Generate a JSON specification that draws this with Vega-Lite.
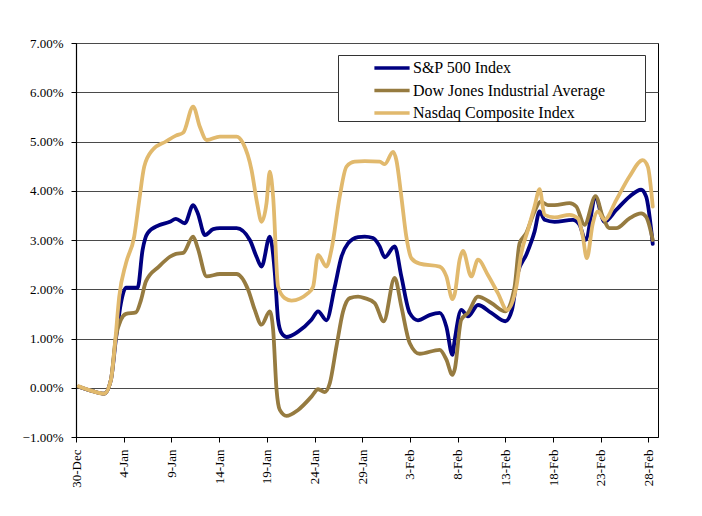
{
  "$schema": "https://vega.github.io/schema/vega-lite/v6.json",
  "autosize": {"type": "none"},
  "padding": {"left": 76, "top": 43, "right": 44, "bottom": 79},
  "width": 582,
  "height": 394,
  "background": "white",
  "data": {"values": [
    {"series": "S&P 500 Index", "day": 0.3, "ret": 0.02},
    {"series": "S&P 500 Index", "day": 1.75, "ret": -0.07},
    {"series": "S&P 500 Index", "day": 2.96, "ret": -0.12},
    {"series": "S&P 500 Index", "day": 3.66, "ret": 0.16},
    {"series": "S&P 500 Index", "day": 4.19, "ret": 1.0},
    {"series": "S&P 500 Index", "day": 4.71, "ret": 1.72},
    {"series": "S&P 500 Index", "day": 5.24, "ret": 2.03},
    {"series": "S&P 500 Index", "day": 6.46, "ret": 2.03},
    {"series": "S&P 500 Index", "day": 6.98, "ret": 2.8},
    {"series": "S&P 500 Index", "day": 7.51, "ret": 3.14},
    {"series": "S&P 500 Index", "day": 8.69, "ret": 3.3},
    {"series": "S&P 500 Index", "day": 9.84, "ret": 3.37},
    {"series": "S&P 500 Index", "day": 10.47, "ret": 3.43},
    {"series": "S&P 500 Index", "day": 11.41, "ret": 3.34},
    {"series": "S&P 500 Index", "day": 12.28, "ret": 3.71},
    {"series": "S&P 500 Index", "day": 12.77, "ret": 3.54},
    {"series": "S&P 500 Index", "day": 13.51, "ret": 3.1},
    {"series": "S&P 500 Index", "day": 14.38, "ret": 3.22},
    {"series": "S&P 500 Index", "day": 15.08, "ret": 3.24},
    {"series": "S&P 500 Index", "day": 16.83, "ret": 3.24},
    {"series": "S&P 500 Index", "day": 18.22, "ret": 3.0},
    {"series": "S&P 500 Index", "day": 18.92, "ret": 2.66},
    {"series": "S&P 500 Index", "day": 19.45, "ret": 2.46},
    {"series": "S&P 500 Index", "day": 20.31, "ret": 3.07},
    {"series": "S&P 500 Index", "day": 20.84, "ret": 2.33},
    {"series": "S&P 500 Index", "day": 21.18, "ret": 1.38},
    {"series": "S&P 500 Index", "day": 21.54, "ret": 1.11},
    {"series": "S&P 500 Index", "day": 22.06, "ret": 1.03},
    {"series": "S&P 500 Index", "day": 23.28, "ret": 1.14},
    {"series": "S&P 500 Index", "day": 24.68, "ret": 1.38},
    {"series": "S&P 500 Index", "day": 25.37, "ret": 1.55},
    {"series": "S&P 500 Index", "day": 26.25, "ret": 1.37},
    {"series": "S&P 500 Index", "day": 27.12, "ret": 2.05},
    {"series": "S&P 500 Index", "day": 27.82, "ret": 2.66},
    {"series": "S&P 500 Index", "day": 28.51, "ret": 2.93},
    {"series": "S&P 500 Index", "day": 29.56, "ret": 3.06},
    {"series": "S&P 500 Index", "day": 30.26, "ret": 3.07},
    {"series": "S&P 500 Index", "day": 31.13, "ret": 3.04},
    {"series": "S&P 500 Index", "day": 31.83, "ret": 2.87},
    {"series": "S&P 500 Index", "day": 32.36, "ret": 2.65},
    {"series": "S&P 500 Index", "day": 33.4, "ret": 2.87},
    {"series": "S&P 500 Index", "day": 34.1, "ret": 2.26},
    {"series": "S&P 500 Index", "day": 34.97, "ret": 1.52},
    {"series": "S&P 500 Index", "day": 35.84, "ret": 1.37},
    {"series": "S&P 500 Index", "day": 37.0, "ret": 1.47},
    {"series": "S&P 500 Index", "day": 38.12, "ret": 1.52},
    {"series": "S&P 500 Index", "day": 38.82, "ret": 1.24},
    {"series": "S&P 500 Index", "day": 39.45, "ret": 0.67},
    {"series": "S&P 500 Index", "day": 39.69, "ret": 0.97},
    {"series": "S&P 500 Index", "day": 40.38, "ret": 1.58},
    {"series": "S&P 500 Index", "day": 41.08, "ret": 1.45},
    {"series": "S&P 500 Index", "day": 42.13, "ret": 1.68},
    {"series": "S&P 500 Index", "day": 43.53, "ret": 1.52},
    {"series": "S&P 500 Index", "day": 45.0, "ret": 1.35},
    {"series": "S&P 500 Index", "day": 45.69, "ret": 1.58},
    {"series": "S&P 500 Index", "day": 46.31, "ret": 2.33},
    {"series": "S&P 500 Index", "day": 47.19, "ret": 2.7},
    {"series": "S&P 500 Index", "day": 48.06, "ret": 3.17},
    {"series": "S&P 500 Index", "day": 48.59, "ret": 3.58},
    {"series": "S&P 500 Index", "day": 49.11, "ret": 3.41},
    {"series": "S&P 500 Index", "day": 50.16, "ret": 3.37},
    {"series": "S&P 500 Index", "day": 52.07, "ret": 3.41},
    {"series": "S&P 500 Index", "day": 52.77, "ret": 3.31},
    {"series": "S&P 500 Index", "day": 53.4, "ret": 3.0},
    {"series": "S&P 500 Index", "day": 54.45, "ret": 3.85},
    {"series": "S&P 500 Index", "day": 55.39, "ret": 3.37},
    {"series": "S&P 500 Index", "day": 56.62, "ret": 3.61},
    {"series": "S&P 500 Index", "day": 58.01, "ret": 3.88},
    {"series": "S&P 500 Index", "day": 59.23, "ret": 4.02},
    {"series": "S&P 500 Index", "day": 59.76, "ret": 3.88},
    {"series": "S&P 500 Index", "day": 60.45, "ret": 2.92},

    {"series": "Dow Jones Industrial Average", "day": 0.3, "ret": 0.02},
    {"series": "Dow Jones Industrial Average", "day": 1.75, "ret": -0.07},
    {"series": "Dow Jones Industrial Average", "day": 2.96, "ret": -0.12},
    {"series": "Dow Jones Industrial Average", "day": 3.66, "ret": 0.16},
    {"series": "Dow Jones Industrial Average", "day": 4.19, "ret": 1.04},
    {"series": "Dow Jones Industrial Average", "day": 4.71, "ret": 1.38},
    {"series": "Dow Jones Industrial Average", "day": 5.24, "ret": 1.5},
    {"series": "Dow Jones Industrial Average", "day": 6.28, "ret": 1.53},
    {"series": "Dow Jones Industrial Average", "day": 6.81, "ret": 1.78},
    {"series": "Dow Jones Industrial Average", "day": 7.33, "ret": 2.16},
    {"series": "Dow Jones Industrial Average", "day": 8.69, "ret": 2.46},
    {"series": "Dow Jones Industrial Average", "day": 9.84, "ret": 2.66},
    {"series": "Dow Jones Industrial Average", "day": 10.47, "ret": 2.72},
    {"series": "Dow Jones Industrial Average", "day": 11.24, "ret": 2.74},
    {"series": "Dow Jones Industrial Average", "day": 12.28, "ret": 3.07},
    {"series": "Dow Jones Industrial Average", "day": 12.77, "ret": 2.83},
    {"series": "Dow Jones Industrial Average", "day": 13.69, "ret": 2.26},
    {"series": "Dow Jones Industrial Average", "day": 15.08, "ret": 2.31},
    {"series": "Dow Jones Industrial Average", "day": 16.83, "ret": 2.31},
    {"series": "Dow Jones Industrial Average", "day": 18.04, "ret": 1.99},
    {"series": "Dow Jones Industrial Average", "day": 18.74, "ret": 1.58},
    {"series": "Dow Jones Industrial Average", "day": 19.45, "ret": 1.28},
    {"series": "Dow Jones Industrial Average", "day": 20.31, "ret": 1.55},
    {"series": "Dow Jones Industrial Average", "day": 20.66, "ret": 1.18},
    {"series": "Dow Jones Industrial Average", "day": 21.02, "ret": -0.04},
    {"series": "Dow Jones Industrial Average", "day": 21.36, "ret": -0.45},
    {"series": "Dow Jones Industrial Average", "day": 22.06, "ret": -0.57},
    {"series": "Dow Jones Industrial Average", "day": 23.28, "ret": -0.45},
    {"series": "Dow Jones Industrial Average", "day": 24.68, "ret": -0.18},
    {"series": "Dow Jones Industrial Average", "day": 25.37, "ret": -0.03},
    {"series": "Dow Jones Industrial Average", "day": 26.07, "ret": -0.09},
    {"series": "Dow Jones Industrial Average", "day": 26.6, "ret": 0.09},
    {"series": "Dow Jones Industrial Average", "day": 27.3, "ret": 0.84},
    {"series": "Dow Jones Industrial Average", "day": 27.99, "ret": 1.55},
    {"series": "Dow Jones Industrial Average", "day": 28.69, "ret": 1.82},
    {"series": "Dow Jones Industrial Average", "day": 29.56, "ret": 1.85},
    {"series": "Dow Jones Industrial Average", "day": 30.26, "ret": 1.82},
    {"series": "Dow Jones Industrial Average", "day": 31.31, "ret": 1.72},
    {"series": "Dow Jones Industrial Average", "day": 32.25, "ret": 1.35},
    {"series": "Dow Jones Industrial Average", "day": 33.4, "ret": 2.23},
    {"series": "Dow Jones Industrial Average", "day": 34.1, "ret": 1.65},
    {"series": "Dow Jones Industrial Average", "day": 34.97, "ret": 0.91},
    {"series": "Dow Jones Industrial Average", "day": 36.02, "ret": 0.69},
    {"series": "Dow Jones Industrial Average", "day": 38.12, "ret": 0.77},
    {"series": "Dow Jones Industrial Average", "day": 38.82, "ret": 0.57},
    {"series": "Dow Jones Industrial Average", "day": 39.45, "ret": 0.26},
    {"series": "Dow Jones Industrial Average", "day": 39.69, "ret": 0.37},
    {"series": "Dow Jones Industrial Average", "day": 40.38, "ret": 1.38},
    {"series": "Dow Jones Industrial Average", "day": 41.08, "ret": 1.52},
    {"series": "Dow Jones Industrial Average", "day": 42.13, "ret": 1.85},
    {"series": "Dow Jones Industrial Average", "day": 43.53, "ret": 1.72},
    {"series": "Dow Jones Industrial Average", "day": 45.0, "ret": 1.55},
    {"series": "Dow Jones Industrial Average", "day": 45.97, "ret": 2.05},
    {"series": "Dow Jones Industrial Average", "day": 46.49, "ret": 2.93},
    {"series": "Dow Jones Industrial Average", "day": 47.19, "ret": 3.14},
    {"series": "Dow Jones Industrial Average", "day": 48.06, "ret": 3.58},
    {"series": "Dow Jones Industrial Average", "day": 48.69, "ret": 3.78},
    {"series": "Dow Jones Industrial Average", "day": 49.46, "ret": 3.71},
    {"series": "Dow Jones Industrial Average", "day": 50.16, "ret": 3.71},
    {"series": "Dow Jones Industrial Average", "day": 51.73, "ret": 3.75},
    {"series": "Dow Jones Industrial Average", "day": 52.43, "ret": 3.68},
    {"series": "Dow Jones Industrial Average", "day": 53.3, "ret": 3.31},
    {"series": "Dow Jones Industrial Average", "day": 54.45, "ret": 3.89},
    {"series": "Dow Jones Industrial Average", "day": 55.21, "ret": 3.47},
    {"series": "Dow Jones Industrial Average", "day": 55.92, "ret": 3.24},
    {"series": "Dow Jones Industrial Average", "day": 56.62, "ret": 3.24},
    {"series": "Dow Jones Industrial Average", "day": 58.01, "ret": 3.44},
    {"series": "Dow Jones Industrial Average", "day": 59.23, "ret": 3.54},
    {"series": "Dow Jones Industrial Average", "day": 59.76, "ret": 3.47},
    {"series": "Dow Jones Industrial Average", "day": 60.45, "ret": 3.0},

    {"series": "Nasdaq Composite Index", "day": 0.3, "ret": 0.03},
    {"series": "Nasdaq Composite Index", "day": 1.75, "ret": -0.07},
    {"series": "Nasdaq Composite Index", "day": 2.96, "ret": -0.12},
    {"series": "Nasdaq Composite Index", "day": 3.66, "ret": 0.16},
    {"series": "Nasdaq Composite Index", "day": 4.12, "ret": 0.97},
    {"series": "Nasdaq Composite Index", "day": 4.53, "ret": 1.85},
    {"series": "Nasdaq Composite Index", "day": 5.24, "ret": 2.53},
    {"series": "Nasdaq Composite Index", "day": 6.1, "ret": 3.07},
    {"series": "Nasdaq Composite Index", "day": 6.63, "ret": 3.81},
    {"series": "Nasdaq Composite Index", "day": 7.15, "ret": 4.49},
    {"series": "Nasdaq Composite Index", "day": 8.03, "ret": 4.83},
    {"series": "Nasdaq Composite Index", "day": 9.42, "ret": 5.0},
    {"series": "Nasdaq Composite Index", "day": 10.47, "ret": 5.12},
    {"series": "Nasdaq Composite Index", "day": 11.24, "ret": 5.18},
    {"series": "Nasdaq Composite Index", "day": 12.28, "ret": 5.71},
    {"series": "Nasdaq Composite Index", "day": 12.98, "ret": 5.3},
    {"series": "Nasdaq Composite Index", "day": 13.69, "ret": 5.03},
    {"series": "Nasdaq Composite Index", "day": 15.08, "ret": 5.1},
    {"series": "Nasdaq Composite Index", "day": 16.83, "ret": 5.1},
    {"series": "Nasdaq Composite Index", "day": 17.52, "ret": 4.96},
    {"series": "Nasdaq Composite Index", "day": 18.4, "ret": 4.42},
    {"series": "Nasdaq Composite Index", "day": 18.98, "ret": 3.75},
    {"series": "Nasdaq Composite Index", "day": 19.45, "ret": 3.37},
    {"series": "Nasdaq Composite Index", "day": 19.97, "ret": 3.75},
    {"series": "Nasdaq Composite Index", "day": 20.31, "ret": 4.39},
    {"series": "Nasdaq Composite Index", "day": 20.66, "ret": 3.88},
    {"series": "Nasdaq Composite Index", "day": 21.18, "ret": 2.05},
    {"series": "Nasdaq Composite Index", "day": 21.88, "ret": 1.82},
    {"series": "Nasdaq Composite Index", "day": 22.59, "ret": 1.77},
    {"series": "Nasdaq Composite Index", "day": 24.32, "ret": 1.92},
    {"series": "Nasdaq Composite Index", "day": 24.85, "ret": 2.05},
    {"series": "Nasdaq Composite Index", "day": 25.37, "ret": 2.7},
    {"series": "Nasdaq Composite Index", "day": 26.25, "ret": 2.46},
    {"series": "Nasdaq Composite Index", "day": 26.77, "ret": 2.8},
    {"series": "Nasdaq Composite Index", "day": 27.64, "ret": 3.88},
    {"series": "Nasdaq Composite Index", "day": 28.35, "ret": 4.49},
    {"series": "Nasdaq Composite Index", "day": 29.21, "ret": 4.59},
    {"series": "Nasdaq Composite Index", "day": 30.26, "ret": 4.6},
    {"series": "Nasdaq Composite Index", "day": 31.83, "ret": 4.59},
    {"series": "Nasdaq Composite Index", "day": 32.36, "ret": 4.54},
    {"series": "Nasdaq Composite Index", "day": 33.23, "ret": 4.79},
    {"series": "Nasdaq Composite Index", "day": 33.58, "ret": 4.62},
    {"series": "Nasdaq Composite Index", "day": 34.1, "ret": 3.88},
    {"series": "Nasdaq Composite Index", "day": 34.62, "ret": 3.07},
    {"series": "Nasdaq Composite Index", "day": 35.15, "ret": 2.63},
    {"series": "Nasdaq Composite Index", "day": 36.02, "ret": 2.52},
    {"series": "Nasdaq Composite Index", "day": 38.12, "ret": 2.46},
    {"series": "Nasdaq Composite Index", "day": 38.82, "ret": 2.26},
    {"series": "Nasdaq Composite Index", "day": 39.45, "ret": 1.8},
    {"series": "Nasdaq Composite Index", "day": 39.69, "ret": 1.9},
    {"series": "Nasdaq Composite Index", "day": 40.21, "ret": 2.6},
    {"series": "Nasdaq Composite Index", "day": 40.55, "ret": 2.78},
    {"series": "Nasdaq Composite Index", "day": 41.43, "ret": 2.26},
    {"series": "Nasdaq Composite Index", "day": 42.13, "ret": 2.6},
    {"series": "Nasdaq Composite Index", "day": 43.17, "ret": 2.29},
    {"series": "Nasdaq Composite Index", "day": 44.22, "ret": 1.92},
    {"series": "Nasdaq Composite Index", "day": 45.17, "ret": 1.58},
    {"series": "Nasdaq Composite Index", "day": 46.15, "ret": 2.05},
    {"series": "Nasdaq Composite Index", "day": 46.67, "ret": 2.73},
    {"series": "Nasdaq Composite Index", "day": 47.36, "ret": 3.2},
    {"series": "Nasdaq Composite Index", "day": 48.06, "ret": 3.68},
    {"series": "Nasdaq Composite Index", "day": 48.59, "ret": 4.03},
    {"series": "Nasdaq Composite Index", "day": 49.11, "ret": 3.51},
    {"series": "Nasdaq Composite Index", "day": 50.16, "ret": 3.46},
    {"series": "Nasdaq Composite Index", "day": 51.73, "ret": 3.51},
    {"series": "Nasdaq Composite Index", "day": 52.6, "ret": 3.44},
    {"series": "Nasdaq Composite Index", "day": 53.12, "ret": 3.07},
    {"series": "Nasdaq Composite Index", "day": 53.54, "ret": 2.63},
    {"series": "Nasdaq Composite Index", "day": 54.17, "ret": 3.34},
    {"series": "Nasdaq Composite Index", "day": 54.69, "ret": 3.58},
    {"series": "Nasdaq Composite Index", "day": 55.39, "ret": 3.41},
    {"series": "Nasdaq Composite Index", "day": 56.62, "ret": 3.81},
    {"series": "Nasdaq Composite Index", "day": 58.01, "ret": 4.29},
    {"series": "Nasdaq Composite Index", "day": 59.4, "ret": 4.62},
    {"series": "Nasdaq Composite Index", "day": 59.93, "ret": 4.49},
    {"series": "Nasdaq Composite Index", "day": 60.45, "ret": 3.68}
  ]},
  "mark": {"type": "line", "strokeWidth": 3.8, "interpolate": "monotone", "strokeCap": "round", "strokeJoin": "round"},
  "encoding": {
    "x": {
      "field": "day", "type": "quantitative",
      "scale": {"domain": [0, 61], "nice": false, "zero": false},
      "axis": {
        "title": null,
        "grid": false,
        "values": [0, 5, 10, 15, 20, 25, 30, 35, 40, 45, 50, 55, 60],
        "labelExpr": "timeFormat(datetime(2005, 11, 30 + datum.value), '%-d-%b')",
        "labelAngle": -90,
        "labelPadding": 7,
        "tickSize": 5
      }
    },
    "y": {
      "field": "ret", "type": "quantitative",
      "scale": {"domain": [-1, 7], "nice": false, "zero": false},
      "axis": {
        "title": null,
        "values": [-1, 0, 1, 2, 3, 4, 5, 6, 7],
        "labelExpr": "format(datum.value, '.2f') + '%'",
        "labelPadding": 8,
        "tickSize": 5,
        "grid": true
      }
    },
    "color": {
      "field": "series", "type": "nominal",
      "scale": {
        "domain": ["S&P 500 Index", "Dow Jones Industrial Average", "Nasdaq Composite Index"],
        "range": ["#000080", "#967B40", "#E1B96D"]
      },
      "legend": {
        "title": "\u00a0",
        "titleOrient": "right",
        "titlePadding": 39,
        "orient": "none",
        "legendX": 262,
        "legendY": 12,
        "direction": "vertical",
        "symbolType": "M-1.6,0H1.6",
        "symbolStrokeWidth": 3.5,
        "symbolSize": 484,
        "symbolOffset": 41,
        "labelOffset": 8,
        "labelFont": "Liberation Serif",
        "labelFontSize": 16,
        "labelColor": "#000",
        "labelLimit": 400,
        "rowPadding": 1.5,
        "padding": 0,
        "strokeColor": "#333",
        "fillColor": "white"
      }
    }
  },
  "config": {
    "view": {"stroke": "#000", "strokeWidth": 1},
    "axis": {
      "labelFont": "Liberation Serif",
      "labelFontSize": 13,
      "labelColor": "#000",
      "domainColor": "#000",
      "tickColor": "#000",
      "gridColor": "#4a4a4a",
      "gridWidth": 1,
      "gridOpacity": 1,
      "domainWidth": 1.2
    }
  }
}
